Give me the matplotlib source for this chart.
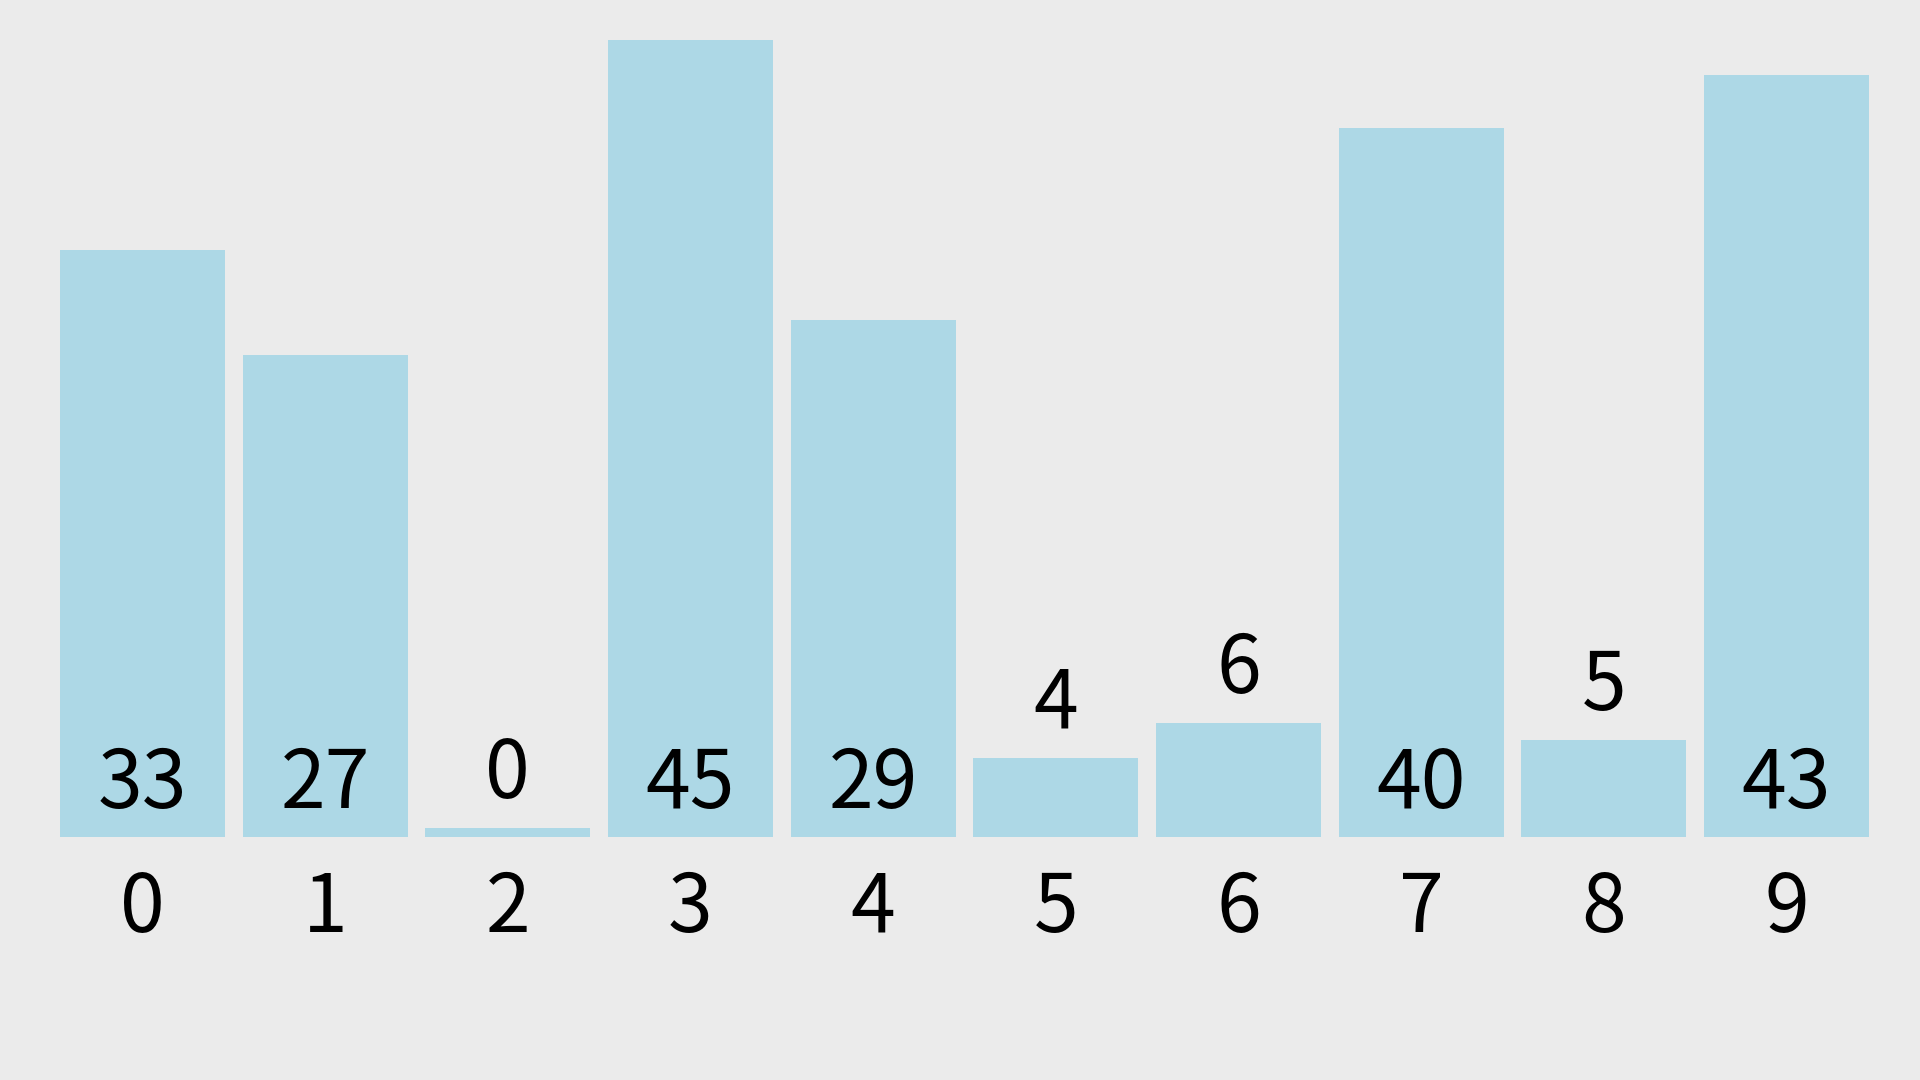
import matplotlib.pyplot as plt
import numpy as np

categories = ['0', '1', '2', '3', '4', '5', '6', '7', '8', '9']
values = [33, 27, 0, 45, 29, 4, 6, 40, 5, 43]

plt.rcParams['font.family'] = ['Noto Sans CJK JP', 'DejaVu Sans']

base = -0.54  # bars start a bit below zero so a 0 bar is still visible
inside_min = 10  # values below this get their label above the bar

fig = plt.figure(figsize=(19.2, 10.8), dpi=100, facecolor='#ebebeb')
ax = fig.add_axes([0, 243 / 1080, 1, 837 / 1080])
ax.set_facecolor('#ebebeb')

x = np.arange(len(values))
heights = np.array(values) - base
ax.bar(x, heights, bottom=base, width=0.903, color='#add8e6')

for xi, v in zip(x, values):
    if v >= inside_min:
        ax.annotate(str(v), (xi, base), xytext=(0, 21), textcoords='offset points',
                    ha='center', va='baseline', fontsize=58, color='black')
    else:
        ax.annotate(str(v), (xi, v), xytext=(0, 21.5), textcoords='offset points',
                    ha='center', va='baseline', fontsize=58, color='black')

ax.set_xlim(-0.780, 9.731)
ax.set_ylim(base, base + 837 / 17.5)
ax.set_xticks(x)
ax.set_xticklabels(categories, fontsize=58)
for lbl in ax.get_xticklabels():
    lbl.set_va('baseline')
ax.tick_params(axis='x', length=0, pad=68.4)
ax.set_yticks([])
for s in ax.spines.values():
    s.set_visible(False)

fig.savefig('out.png', dpi=100, facecolor=fig.get_facecolor())
